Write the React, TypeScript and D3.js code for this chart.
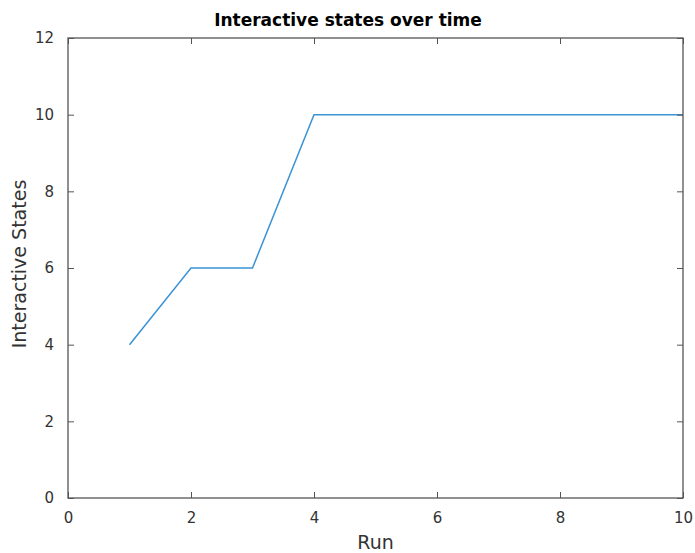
import React, { useEffect, useRef } from "react";
import * as d3 from "d3";

const runs = [1, 2, 3, 4, 5, 6, 7, 8, 9, 10];
const states = [4, 6, 6, 10, 10, 10, 10, 10, 10, 10];
const xTicks = [0, 2, 4, 6, 8, 10];
const yTicks = [0, 2, 4, 6, 8, 10, 12];

const W = 695;
const H = 553;
const margin = { left: 68, right: 12, top: 38, bottom: 55 };
const axisColor = "#555555";
const font = "DejaVu Sans, sans-serif";

export default function App() {
  const ref = useRef<SVGSVGElement>(null);

  useEffect(() => {
    const svg = d3.select(ref.current);
    svg.selectAll("*").remove();

    const innerW = W - margin.left - margin.right;
    const innerH = H - margin.top - margin.bottom;

    const x = d3.scaleLinear().domain([0, 10]).range([0, innerW]);
    const y = d3.scaleLinear().domain([0, 12]).range([innerH, 0]);

    const g = svg
      .append("g")
      .attr("transform", "translate(" + margin.left + "," + margin.top + ")");

    // data line
    g.append("path")
      .datum(runs.map((r, i) => [r, states[i]] as [number, number]))
      .attr("fill", "none")
      .attr("stroke", "#3a93d5")
      .attr("stroke-width", 1.5)
      .attr("d", d3.line<[number, number]>()
        .x((d) => x(d[0]))
        .y((d) => y(d[1])));

    // box
    g.append("rect")
      .attr("width", innerW)
      .attr("height", innerH)
      .attr("fill", "none")
      .attr("stroke", axisColor)
      .attr("stroke-width", 1.3);

    // ticks point inward on all four sides
    const bottom = g.append("g").attr("transform", "translate(0," + innerH + ")")
      .call(d3.axisBottom(x).tickValues(xTicks).tickSize(-6).tickPadding(14).tickFormat(d3.format("d")));
    const top = g.append("g")
      .call(d3.axisTop(x).tickValues(xTicks).tickSize(-6).tickFormat(() => ""));
    const left = g.append("g")
      .call(d3.axisLeft(y).tickValues(yTicks).tickSize(-6).tickPadding(14).tickFormat(d3.format("d")));
    const right = g.append("g").attr("transform", "translate(" + innerW + ",0)")
      .call(d3.axisRight(y).tickValues(yTicks).tickSize(-6).tickFormat(() => ""));

    [bottom, top, left, right].forEach((a) => {
      a.select(".domain").remove();
      a.selectAll("line").attr("stroke", axisColor);
      a.selectAll("text")
        .attr("fill", "#333")
        .style("font-family", font)
        .style("font-size", "15px");
    });

    svg.append("text")
      .attr("x", 348)
      .attr("y", 26)
      .attr("text-anchor", "middle")
      .style("font-family", font)
      .style("font-size", "17px")
      .style("font-weight", "bold")
      .attr("fill", "#000")
      .text("Interactive states over time");

    svg.append("text")
      .attr("x", margin.left + innerW / 2)
      .attr("y", H - 4)
      .attr("text-anchor", "middle")
      .style("font-family", font)
      .style("font-size", "19px")
      .attr("fill", "#333")
      .text("Run");

    svg.append("text")
      .attr("transform", "translate(26,264) rotate(-90)")
      .attr("text-anchor", "middle")
      .style("font-family", font)
      .style("font-size", "19px")
      .attr("fill", "#333")
      .text("Interactive States");
  }, []);

  return (
    <svg ref={ref} width={W} height={H} style={{ position: "absolute", left: 0, top: 0, background: "#fff" }} />
  );
}
